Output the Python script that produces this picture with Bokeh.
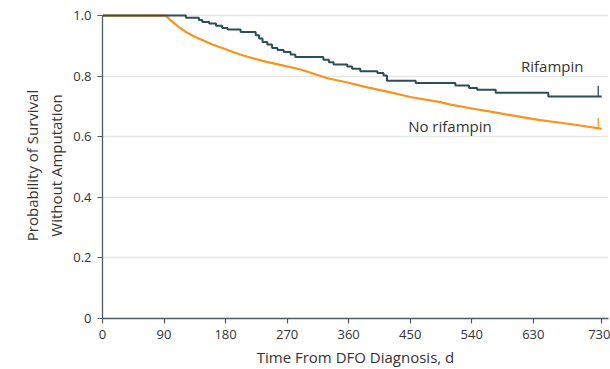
from bokeh.plotting import figure
from bokeh.models import FixedTicker, CustomJSTickFormatter, Range1d
from bokeh.core.properties import value
from bokeh.embed import file_html
from bokeh.resources import INLINE

# ---- data ----
rif_days = [0, 122, 141, 146, 156, 166, 175, 183, 202, 224, 229, 234, 241, 248, 256,
            265, 275, 282, 323, 331, 338, 358, 365, 377, 402, 411, 416, 458, 516,
            536, 548, 575, 652, 730]
rif_surv = [1.0, 0.993, 0.985, 0.979, 0.974, 0.966, 0.959, 0.954, 0.946, 0.935, 0.924,
            0.913, 0.904, 0.893, 0.886, 0.880, 0.871, 0.863, 0.854, 0.846, 0.838,
            0.832, 0.824, 0.816, 0.810, 0.802, 0.785, 0.777, 0.769, 0.761, 0.755,
            0.745, 0.733, 0.733]

norif_days = [0, 92, 98, 105, 114, 124, 134, 144, 160, 183, 200, 220, 240, 260, 290,
              329, 360, 387, 420, 450, 494, 509, 540, 572, 605, 640, 670, 699, 730]
norif_surv = [1.0, 1.0, 0.988, 0.974, 0.958, 0.943, 0.931, 0.921, 0.905, 0.886, 0.872,
              0.859, 0.847, 0.837, 0.822, 0.793, 0.778, 0.763, 0.747, 0.731, 0.714,
              0.706, 0.693, 0.681, 0.668, 0.655, 0.646, 0.637, 0.626]

censor_day = [725]
rif_censor_surv = [0.733]
norif_censor_surv = [0.627]

x_ticks = [0, 90, 180, 270, 360, 450, 540, 630, 730]
y_ticks = [0, 0.2, 0.4, 0.6, 0.8, 1.0]

series_labels = ["Rifampin", "No rifampin"]
label_x = [612, 447]
label_y = [0.835, 0.637]

# ---- styling ----
RIF_COLOR = "#2c4d5b"
NORIF_COLOR = "#f7941d"
TEXT_COLOR = "#333333"
AXIS_COLOR = "#4f5b60"
FONT = "Open Sans"
TICK_H = 0.035

p = figure(width=610, height=369, output_backend="svg", toolbar_location=None,
           x_range=Range1d(0, 740), y_range=Range1d(0, 1.01),
           min_border_left=102, min_border_right=2, min_border_top=12,
           min_border_bottom=51)
p.outline_line_color = None
p.background_fill_color = "white"
p.border_fill_color = "white"

p.xgrid.visible = False
p.ygrid.grid_line_color = "#e4e6e7"
p.ygrid.grid_line_width = 1.5
p.ygrid.ticker = FixedTicker(ticks=y_ticks)

p.xaxis.ticker = FixedTicker(ticks=x_ticks)
p.yaxis.ticker = FixedTicker(ticks=y_ticks)
p.yaxis.formatter = CustomJSTickFormatter(code="return tick == 0 ? '0' : tick.toFixed(1);")
p.yaxis.bounds = (0, 1)

for ax in (p.xaxis, p.yaxis):
    ax.axis_line_color = AXIS_COLOR
    ax.axis_line_width = 1.3
    ax.major_tick_line_color = AXIS_COLOR
    ax.major_tick_line_width = 1.2
    ax.major_tick_in = 0
    ax.major_tick_out = 5
    ax.minor_tick_line_color = None
    ax.major_label_text_font = FONT
    ax.major_label_text_font_size = "13px"
    ax.major_label_text_color = TEXT_COLOR
    ax.axis_label_text_font = FONT
    ax.axis_label_text_font_size = "15px"
    ax.axis_label_text_font_style = "normal"
    ax.axis_label_text_color = TEXT_COLOR

p.xaxis.major_label_standoff = 6
p.yaxis.major_label_standoff = 6
p.xaxis.axis_label = "Time From DFO Diagnosis, d"
p.yaxis.axis_label = "Probability of Survival\nWithout Amputation"
p.xaxis.axis_label_standoff = 5
p.yaxis.axis_label_standoff = 4

p.line(norif_days, norif_surv, line_color=NORIF_COLOR, line_width=2.2, line_join="round")
p.step(rif_days, rif_surv, mode="after", line_color=RIF_COLOR, line_width=2)

p.segment(x0=censor_day, y0=rif_censor_surv, x1=censor_day,
          y1=[v + TICK_H for v in rif_censor_surv], line_color=RIF_COLOR, line_width=1.3)
p.segment(x0=censor_day, y0=norif_censor_surv, x1=censor_day,
          y1=[v + TICK_H for v in norif_censor_surv], line_color=NORIF_COLOR, line_width=1.3)

p.text(x=label_x, y=label_y, text=series_labels, text_font=value(FONT),
       text_font_size="15px", text_color=TEXT_COLOR, text_baseline="middle",
       text_align="left")

open("out.html", "w").write(file_html(p, INLINE))
